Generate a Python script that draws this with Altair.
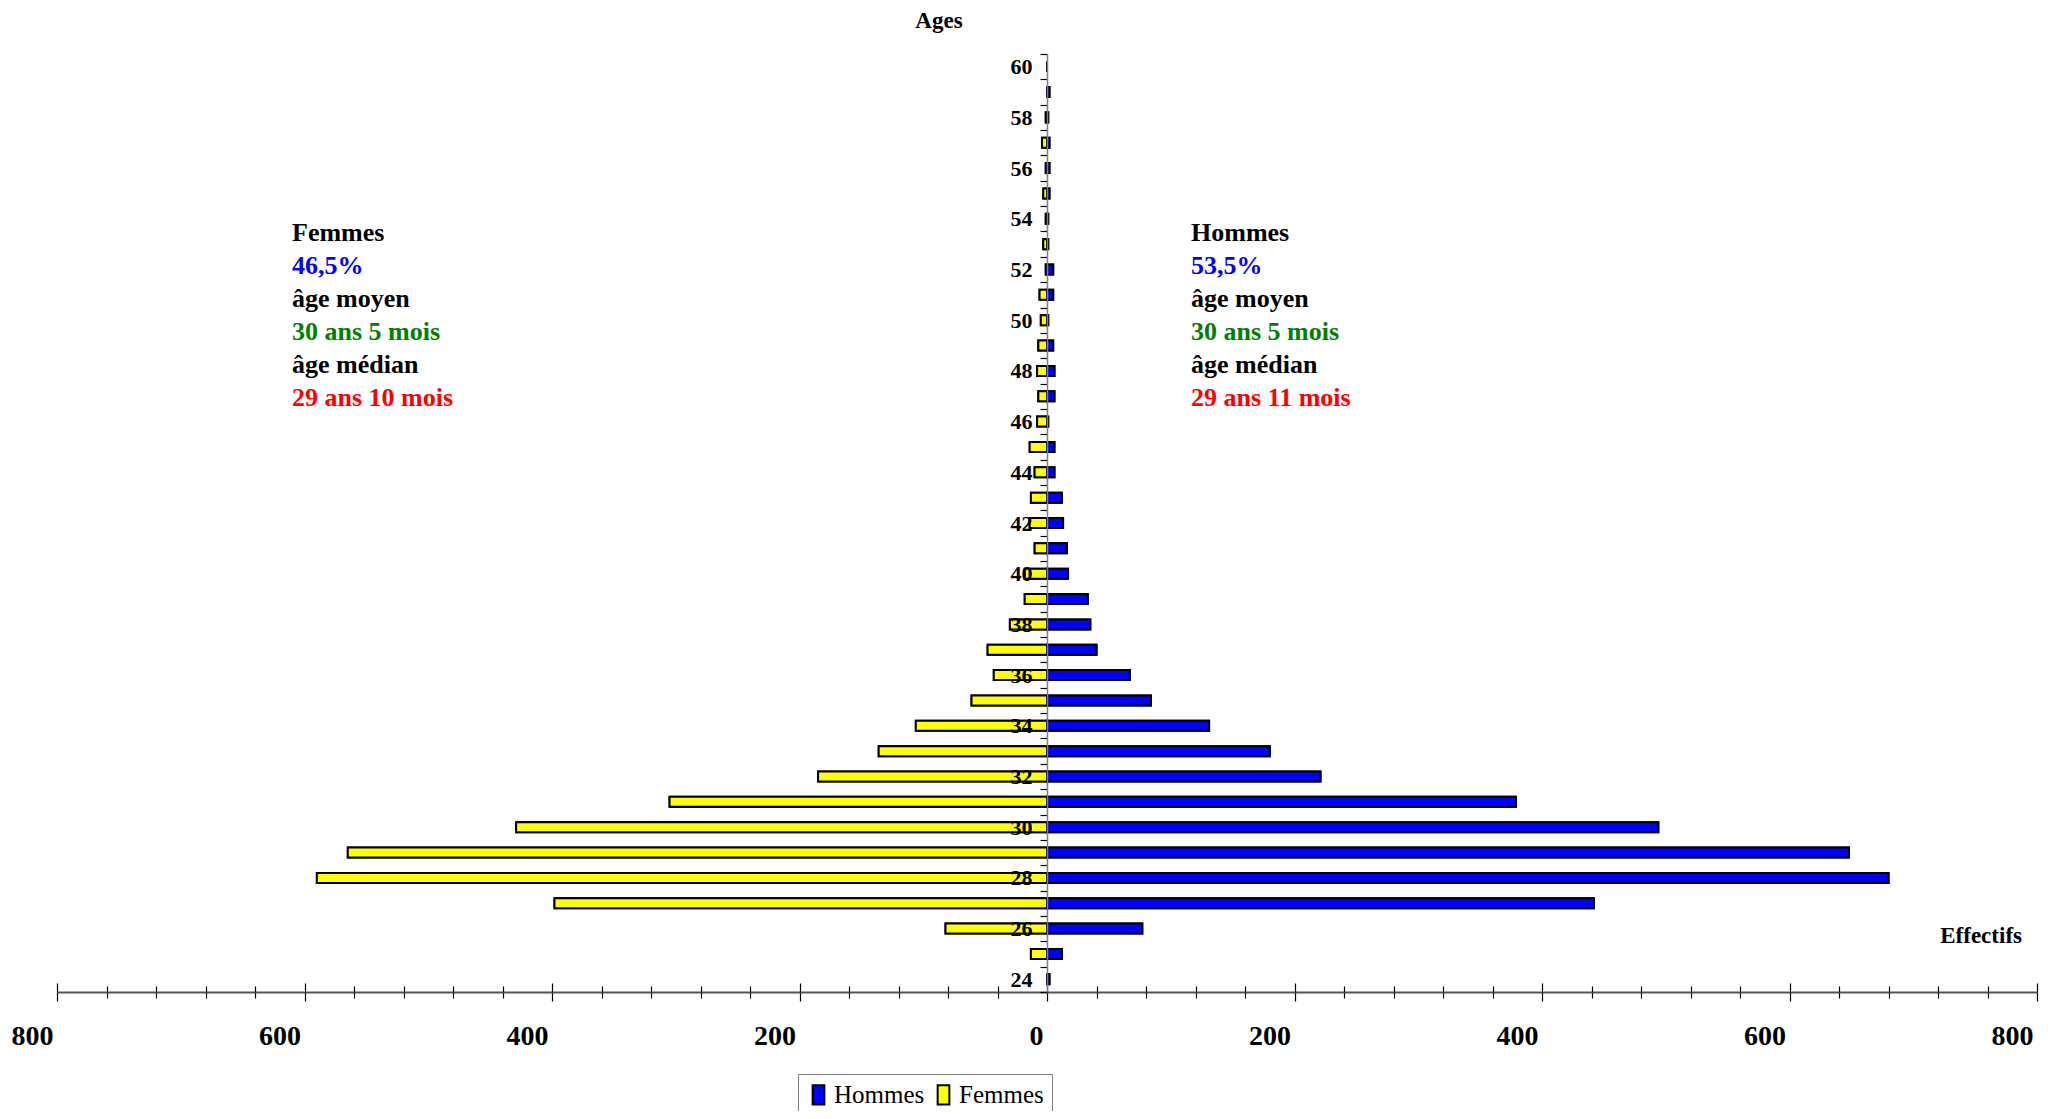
import altair as alt
import pandas as pd

ages = list(range(24, 61))
hommes = [2, 12, 77, 442, 680, 648, 494, 379, 221, 180, 131, 84, 67, 40, 35, 33, 17, 16,
          13, 12, 6, 6, 1, 6, 6, 5, 1, 5, 5, 1, 1, 2, 2, 2, 1, 2, 0]
femmes = [0, 13, 82, 398, 590, 565, 429, 305, 185, 136, 106, 61, 43, 48, 30, 18, 18, 10,
          14, 13, 10, 14, 8, 7, 8, 7, 5, 6, 1, 3, 1, 3, 1, 4, 1, 0, 0]

series = ["Hommes", "Femmes"]
colors = ["#0000FF", "#FFFF00"]

femmes_lines = ["Femmes", "46,5%", "âge moyen", "30 ans 5 mois", "âge médian", "29 ans 10 mois"]
hommes_lines = ["Hommes", "53,5%", "âge moyen", "30 ans 5 mois", "âge médian", "29 ans 11 mois"]
line_colors = ["black", "#0000FF", "black", "#008000", "black", "#FF0000"]

rows = []
for a, h, f in zip(ages, hommes, femmes):
    rows.append({"age": a, "sexe": "Hommes", "effectif": h})
    rows.append({"age": a, "sexe": "Femmes", "effectif": -f})
df = pd.DataFrame(rows)

FONT = "Liberation Serif"
W, H = 1980, 938

tick_vals = list(range(-800, 801, 40))
major = "datum.value % 200 === 0"
tsize = {"condition": {"test": major, "value": 9}, "value": 6}

xscale = alt.Scale(domain=[-800, 800], nice=False, zero=False)

y_enc = alt.Y(
    "age:O",
    sort="descending",
    scale=alt.Scale(paddingInner=0, paddingOuter=0),
    axis=alt.Axis(
        orient="left", offset=-990, tickBand="extent",
        labelExpr="datum.value % 2 === 0 ? datum.label : ''",
        labelFont=FONT, labelFontSize=22, labelFontWeight="bold", labelColor="black",
        tickSize=7, tickColor="black", tickWidth=1.2,
        domainColor="#808080", domainWidth=1.5,
        labelPadding=8, labelOverlap=False, zindex=1, title=None, grid=False,
    ),
)

color_enc = alt.Color(
    "sexe:N",
    scale=alt.Scale(domain=series, range=colors),
    legend=alt.Legend(
        orient="none", legendX=741, legendY=1020, direction="horizontal", title=None,
        labelFont=FONT, labelFontSize=25, labelColor="black",
        symbolType="M-0.6,-1H0.6V1H-0.6Z", symbolSize=380,
        symbolStrokeColor="black", symbolStrokeWidth=2, symbolOpacity=1,
        strokeColor="#808080", fillColor="white", padding=8, columnPadding=6,
        labelOffset=3, labelLimit=0,
    ),
)

bars = alt.Chart(df).mark_bar(height=10, stroke="black", strokeWidth=2, opacity=1).encode(
    x=alt.X(
        "effectif:Q", stack=None, scale=xscale,
        axis=alt.Axis(
            orient="bottom", values=tick_vals, tickSize=tsize,
            labelExpr=f"{major} ? format(abs(datum.value), 'd') : ''",
            labelFont=FONT, labelFontSize=28, labelFontWeight="bold", labelColor="black",
            labelAlign="right", labelBaseline="top", labelPadding=21, labelOffset=-4,
            labelOverlap=False, labelFlush=False,
            domainColor="#555555", domainWidth=2, tickColor="black", tickWidth=1.2,
            grid=False, title=None,
        ),
    ),
    y=y_enc,
    color=color_enc,
)

bars_top = alt.Chart(df).mark_bar(height=10, stroke="black", strokeWidth=2, opacity=1).encode(
    x=alt.X(
        "effectif:Q", stack=None, scale=xscale,
        axis=alt.Axis(
            orient="top", offset=-H, values=tick_vals, tickSize=tsize,
            labels=False, domain=False, grid=False, title=None,
            tickColor="black", tickWidth=1.2,
        ),
    ),
    y=y_enc,
    color=color_enc,
)

layers = [bars, bars_top]

baselines = [187, 220, 253, 286, 319, 352]
for lines, xpos in [(femmes_lines, 235), (hommes_lines, 1134)]:
    for t, c, yb in zip(lines, line_colors, baselines):
        layers.append(
            alt.Chart(pd.DataFrame({"t": [t]})).mark_text(
                font=FONT, fontSize=26, fontWeight="bold", color=c,
                align="left", baseline="alphabetic",
            ).encode(text="t:N", x=alt.value(xpos), y=alt.value(yb))
        )

layers.append(
    alt.Chart(pd.DataFrame({"t": ["Ages"]})).mark_text(
        font=FONT, fontSize=23, fontWeight="bold", color="black",
        align="center", baseline="alphabetic",
    ).encode(text="t:N", x=alt.value(882), y=alt.value(-26))
)
layers.append(
    alt.Chart(pd.DataFrame({"t": ["Effectifs"]})).mark_text(
        font=FONT, fontSize=23, fontWeight="bold", color="black",
        align="right", baseline="alphabetic",
    ).encode(text="t:N", x=alt.value(1965), y=alt.value(889))
)

chart = (
    alt.layer(*layers)
    .resolve_axis(x="independent")
    .properties(
        width=W, height=H,
        padding={"left": 49, "top": 46, "right": 5, "bottom": 119},
        autosize=alt.AutoSizeParams(type="none"),
        background="white",
    )
    .configure_view(stroke=None)
)

chart.save("out.html", embed_options={"renderer": "svg", "actions": False})
